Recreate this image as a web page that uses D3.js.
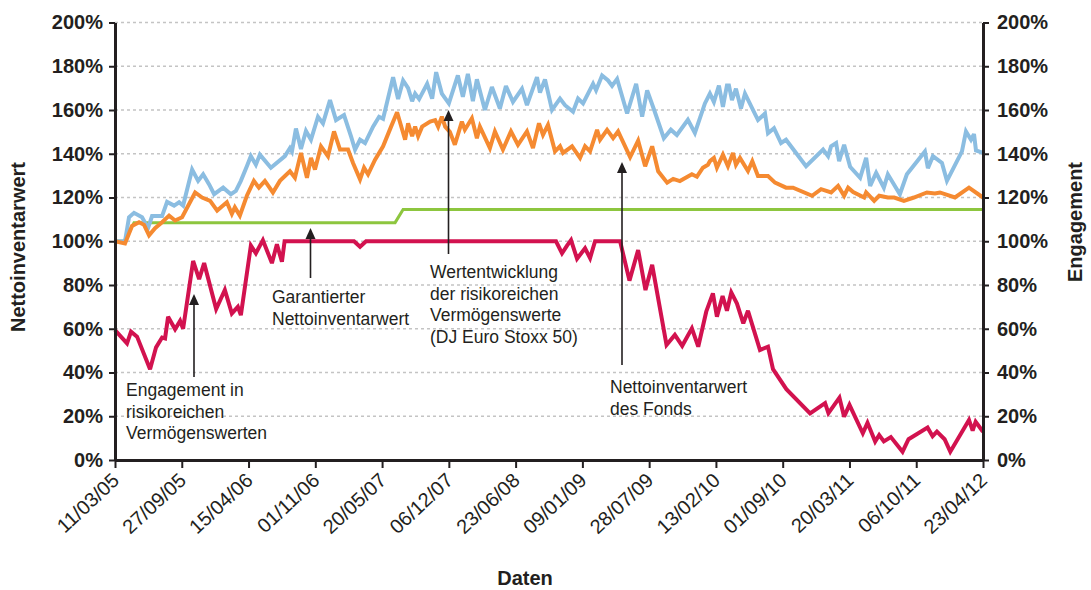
<!DOCTYPE html>
<html><head><meta charset="utf-8">
<script src="https://cdn.jsdelivr.net/npm/d3@7"></script>
<style>body{margin:0;background:#fff} svg{display:block}</style>
</head><body>
<svg id="chart" width="1091" height="590"></svg>
<script>
// ---------------- DATA ----------------
const startDate = "11/03/05"; // Auflagedatum (Tag 0)
const tickLabels = ["11/03/05","27/09/05","15/04/06","01/11/06","20/05/07","06/12/07","23/06/08",
  "09/01/09","28/07/09","13/02/10","01/09/10","20/03/11","06/10/11","23/04/12"];
const yTicks = [0,20,40,60,80,100,120,140,160,180,200];

// Wertentwicklung der risikoreichen Vermögenswerte (DJ Euro Stoxx 50) – Tage seit Auflage / %
const stoxxDays = [0,30,42,57,81,99,111,141,156,177,192,204,231,249,264,282,297,324,347,362,
  377,395,407,422,434,467,509,524,530,542,557,572,587,608,623,644,662,686,707,719,
  734,749,773,791,803,833,848,863,878,890,899,911,935,950,962,979,1000,1027,1042,1057,
  1072,1084,1108,1129,1153,1171,1192,1219,1234,1264,1273,1288,1309,1333,1348,1372,1387,1402,1432,1441,
  1459,1477,1489,1504,1534,1561,1579,1594,1615,1644,1665,1683,1716,1737,1767,1782,1794,1809,1821,1833,
  1839,1848,1860,1875,1887,1926,1947,1956,1974,1995,2010,2070,2121,2136,2145,2160,2169,2184,2202,2232,
  2250,2262,2280,2303,2315,2351,2372,2426,2435,2450,2477,2492,2537,2549,2564,2573,2579,2600];
const stoxxValues = [100,100,111,113,111,106,111.5,111.5,118,116.3,117.8,116.3,132.8,127.6,130.6,126,121.5,124.5,121.5,123,
  127.6,134.3,138.9,135,139.6,133.6,138.9,142.6,141,151.5,142.2,150.4,146.4,156.9,153.9,164.5,155.4,157.7,147.9,141.9,
  146.4,144.9,152.4,156.9,156,175,165,173.5,170,164,167.5,165,172,165.2,177.3,167.5,163,175.8,166,176.5,
  164,174,160,170.5,160.7,171,163.7,169.7,162.2,175,168,174,160,165.2,162.2,159.2,165.2,163,172,169,
  175.8,173.5,171,174.2,158.4,172,157,169,160,147.1,151,148.6,155.5,149.5,163,167.5,163.7,171.2,161.4,171.2,
  171.2,164.5,169.7,160.7,167.5,155.4,158.4,149.4,151.7,144.9,146.4,134.3,141.9,138.9,143.4,144.9,136.6,144.1,134,129,
  138.1,125.3,131.3,124.5,130.6,121.5,130.6,141,133.4,138.9,135.8,127.6,141.1,150.2,146.4,149,141.5,140.4];

// Nettoinventarwert des Fonds
const navDays = [0,30,51,72,87,102,120,141,162,180,201,240,261,285,306,335,350,359,374,395,
  416,431,449,473,494,524,539,557,575,587,599,617,638,656,674,698,713,734,746,758,
  779,803,827,845,869,878,890,899,908,920,944,959,968,979,989,1003,1018,1039,1048,1069,
  1084,1093,1123,1138,1162,1186,1207,1234,1252,1270,1282,1297,1318,1333,1342,1369,1393,1408,1423,1444,
  1453,1474,1492,1507,1543,1567,1588,1609,1627,1654,1672,1692,1728,1743,1761,1776,1782,1794,1803,1821,
  1836,1851,1860,1872,1896,1909,1926,1956,1977,2010,2031,2088,2115,2145,2166,2184,2196,2211,2244,2250,
  2274,2289,2315,2334,2363,2393,2432,2456,2471,2516,2558,2600];
const navValues = [100,99,107,108.7,107.5,102.7,106,108.7,111.7,109.5,111,122.3,120,118.5,114,117.8,112.5,115.5,111.7,120.8,
  127.6,124.5,127.6,122.3,127.6,132,129,140.4,129,138.1,132.8,143.4,138.9,150.2,141.9,141.9,135.8,128.3,133.6,130.6,
  137.3,143.4,152.4,159,146.4,153.9,148,152.4,148,152.4,154.7,155.4,152.4,157,152.4,150,144.1,154.7,151,156.2,
  147.1,152.4,142.6,150.2,141.9,150.2,144.1,150.2,142.6,153.9,148.6,153.2,141.1,143.4,140.4,143.4,138.1,143.4,141.1,150.9,
  146.4,150.9,147.1,150.2,138.5,146,134.3,143.4,132,126.8,128.5,127.5,130.6,129.5,133.6,135,136.6,138.1,133.6,139.6,
  134.3,140.4,135,138.1,132.1,136.6,129.8,129.8,126.8,124.5,124.5,120.8,123.8,122.3,125.3,120.8,124.5,122.5,120,122.3,
  118.5,120.8,120,120,118.5,120,122.3,121.8,122.3,120,124.5,120];

// Garantierter Nettoinventarwert
const guaranteeDays = [0,27,42,57,839,863,2600];
const guaranteeValues = [100,100,104,108.5,108.5,114.5,114.5];

// Engagement in risikoreichen Vermögenswerten (rechte Achse)
const exposureDays = [0,36,48,66,105,123,141,150,159,180,195,204,234,252,267,303,329,350,368,377,
  407,422,443,470,485,500,508,716,734,752,1321,1339,1354,1366,1384,1408,1423,1438,1513,1541,
  1567,1589,1609,1652,1677,1699,1728,1747,1771,1791,1803,1820,1833,1846,1863,1882,1896,1932,1956,1971,
  2011,2082,2127,2137,2170,2184,2200,2240,2254,2277,2289,2303,2324,2359,2377,2434,2449,2462,2485,2502,
  2558,2569,2578,2600];
const exposureValues = [59.4,53.3,58.7,56.4,41.5,51.5,56,55.6,65.5,59.8,63.6,60,91,82.7,90,69,77.7,67,70,66.2,
  98,94.5,100.5,90,98.6,90.6,100,100,97.5,100,100,94.5,98,100.5,92,96.8,92.3,100,100,82,
  96,77.7,89.2,52.6,57.2,52.2,60.2,51.8,67.8,76.2,65.5,75,68.2,76.6,71.5,62.5,68.2,50.3,51.8,41.5,
  32.4,21.3,26,21.4,28.5,19.8,25.2,12.2,17,8.4,11.4,8.5,10.5,3.8,9.5,14.8,10.9,13,9.5,3.8,
  18.3,13.4,17.5,12.9];

// ---------------- CHART ----------------
const FONT = "'Liberation Sans', Arial, sans-serif";
const INK = "#231f20";
const svg = d3.select("#chart");
const plot = {left:115, right:983, top:22.5, bottom:460};

const parse = d3.timeParse("%d/%m/%y");
const t0 = parse(startDate);
const tickDates = tickLabels.map(parse);
const x = d3.scaleTime().domain([tickDates[0], tickDates[tickDates.length-1]]).range([plot.left, plot.right]);
const y = d3.scaleLinear().domain([0,200]).range([plot.bottom, plot.top]);

const toSeries = (days, vals) => days.map((d,i)=>({date:d3.timeDay.offset(t0, d), v:vals[i]}));

// gridlines
svg.append("g").selectAll("line").data(yTicks.filter(v=>v>0)).join("line")
  .attr("x1", plot.left).attr("x2", plot.right)
  .attr("y1", d=>y(d)).attr("y2", d=>y(d))
  .attr("stroke","#c4c4c4").attr("stroke-width",1.4).attr("stroke-dasharray","3,3");

const line = d3.line().x(d=>x(d.date)).y(d=>y(d.v));
const series = [
  {data:toSeries(guaranteeDays, guaranteeValues), color:"#8dc63f", w:3},
  {data:toSeries(stoxxDays, stoxxValues), color:"#8bbde1", w:4},
  {data:toSeries(navDays, navValues), color:"#f58a31", w:4},
  {data:toSeries(exposureDays, exposureValues), color:"#d2124f", w:4}
];
svg.append("g").selectAll("path").data(series).join("path")
  .attr("d", d=>line(d.data)).attr("fill","none")
  .attr("stroke", d=>d.color).attr("stroke-width", d=>d.w)
  .attr("stroke-linejoin","miter").attr("stroke-miterlimit",3);

// axes
const fmt = d=>d+"%";
const gL = svg.append("g").attr("transform",`translate(${plot.left},0)`)
  .call(d3.axisLeft(y).tickValues(yTicks).tickFormat(fmt).tickSize(6).tickSizeOuter(0).tickPadding(6));
const gR = svg.append("g").attr("transform",`translate(${plot.right},0)`)
  .call(d3.axisRight(y).tickValues(yTicks).tickFormat(fmt).tickSize(6).tickSizeOuter(0).tickPadding(8));
const gB = svg.append("g").attr("transform",`translate(0,${plot.bottom})`)
  .call(d3.axisBottom(x).tickValues(tickDates).tickFormat((d,i)=>tickLabels[i]).tickSize(8).tickSizeOuter(0));

[gL,gR].forEach(g=>{
  g.selectAll("text").attr("font-family",FONT).attr("font-size",20).attr("font-weight","bold").attr("fill",INK);
});
[gL,gR,gB].forEach(g=>{
  g.select(".domain").attr("stroke",INK).attr("stroke-width",3);
  g.selectAll(".tick line").attr("stroke",INK).attr("stroke-width",2);
});
gB.selectAll("text").attr("font-family",FONT).attr("font-size",20).attr("fill",INK)
  .attr("text-anchor","end").attr("dy",null).attr("y",null)
  .attr("transform","translate(5,22) rotate(-43)");

// axis titles
svg.append("text").attr("x",525).attr("y",585).attr("text-anchor","middle")
  .attr("font-family",FONT).attr("font-size",20).attr("font-weight","bold").attr("fill",INK).text("Daten");
svg.append("text").attr("transform","translate(25,247) rotate(-90)").attr("text-anchor","middle")
  .attr("font-family",FONT).attr("font-size",20).attr("font-weight","bold").attr("fill",INK).text("Nettoinventarwert");
svg.append("text").attr("transform","translate(1082,222) rotate(-90)").attr("text-anchor","middle")
  .attr("font-family",FONT).attr("font-size",20).attr("font-weight","bold").attr("fill",INK).text("Engagement");

// annotations
const notes = [
  {ax:194, tip:294, tail:377, tx:126, ty:396, lines:["Engagement in","risikoreichen","Vermögenswerten"]},
  {ax:310.5, tip:228, tail:278, tx:272, ty:303, lines:["Garantierter","Nettoinventarwert"]},
  {ax:448.5, tip:110, tail:254, tx:430, ty:278, lines:["Wertentwicklung","der risikoreichen","Vermögenswerte","(DJ Euro Stoxx 50)"]},
  {ax:622, tip:162, tail:365, tx:610, ty:393, lines:["Nettoinventarwert","des Fonds"]}
];
const gN = svg.append("g");
notes.forEach(n=>{
  gN.append("line").attr("x1",n.ax).attr("x2",n.ax).attr("y1",n.tip+9).attr("y2",n.tail)
    .attr("stroke",INK).attr("stroke-width",1.6);
  gN.append("path").attr("d",`M${n.ax},${n.tip} L${n.ax-5},${n.tip+11} L${n.ax+5},${n.tip+11} Z`).attr("fill",INK);
  const t = gN.append("text").attr("font-family",FONT).attr("font-size",17.5).attr("fill",INK);
  n.lines.forEach((s,i)=>t.append("tspan").attr("x",n.tx).attr("y",n.ty+i*21.5).text(s));
});
</script>
</body></html>
